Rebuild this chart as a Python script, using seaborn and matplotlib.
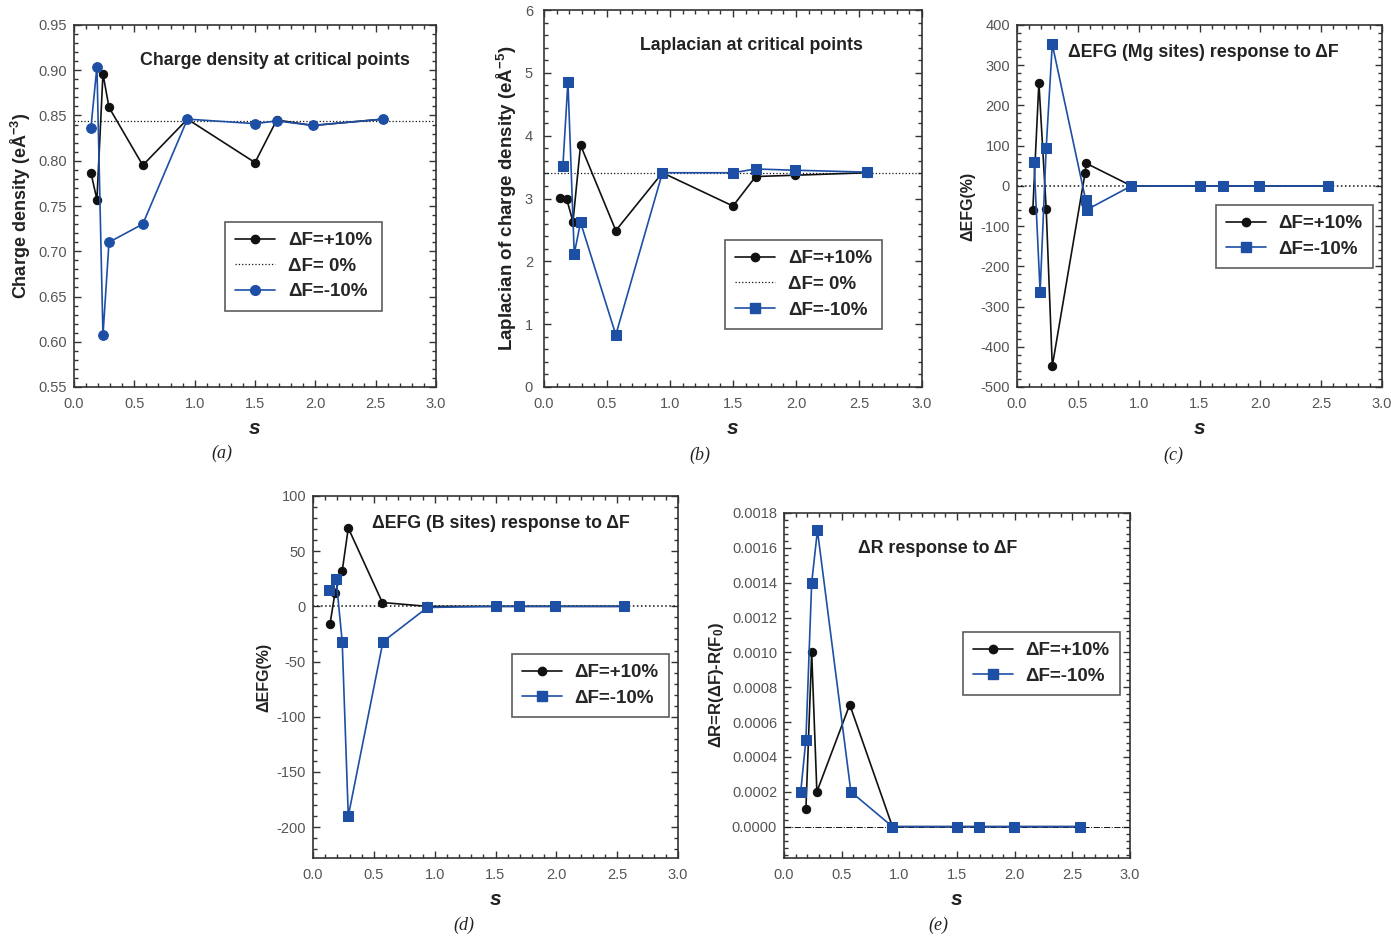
import numpy as np
import pandas as pd
import matplotlib
matplotlib.use("Agg")
import matplotlib.pyplot as plt
from matplotlib.ticker import MultipleLocator, FormatStrFormatter
from matplotlib.lines import Line2D
import seaborn as sns

# ---- data ----
# (a) charge density at critical points
s_a = [0.14, 0.19, 0.24, 0.29, 0.57, 0.94, 1.50, 1.68, 1.98, 2.56]
rho_plus = [0.787, 0.757, 0.896, 0.859, 0.795, 0.846, 0.798, 0.845, 0.839, 0.846]
rho_minus = [0.836, 0.904, 0.607, 0.710, 0.730, 0.846, 0.841, 0.844, 0.839, 0.846]
rho_ref = 0.844

# (b) laplacian at critical points
s_b_plus = [0.13, 0.18, 0.23, 0.29, 0.57, 0.94, 1.50, 1.68, 1.99, 2.56]
lap_plus = [3.01, 2.99, 2.63, 3.85, 2.49, 3.41, 2.88, 3.35, 3.37, 3.41]
s_b_minus = [0.15, 0.19, 0.24, 0.29, 0.57, 0.94, 1.50, 1.68, 1.99, 2.56]
lap_minus = [3.52, 4.86, 2.12, 2.62, 0.83, 3.41, 3.41, 3.47, 3.45, 3.42]
lap_ref = 3.41

# (c) dEFG Mg sites
s_c_plus = [0.13, 0.18, 0.24, 0.29, 0.56, 0.57, 0.94, 1.50, 1.69, 1.99, 2.56]
efg_mg_plus = [-60, 257, -58, -448, 33, 56, 0, 0, 0, 0, 0]
s_c_minus = [0.14, 0.19, 0.24, 0.29, 0.565, 0.575, 0.94, 1.50, 1.69, 1.99, 2.56]
efg_mg_minus = [60, -264, 95, 352, -36, -59, 0, 0, 0, 0, 0]

# (d) dEFG B sites
s_d_plus = [0.14, 0.18, 0.24, 0.29, 0.57, 0.94, 1.50, 1.69, 1.99, 2.56]
efg_b_plus = [-16, 12, 32, 71, 3.5, 0, 0, 0, 0, 0]
s_d_minus = [0.13, 0.19, 0.24, 0.29, 0.575, 0.94, 1.50, 1.69, 1.99, 2.56]
efg_b_minus = [15, 25, -32, -190, -32, -1, 0, 0, 0, 0]

# (e) dR response
s_e_plus = [0.19, 0.24, 0.285, 0.57, 0.94, 1.50, 1.69, 1.99, 2.56]
dr_plus = [0.0001, 0.0010, 0.0002, 0.0007, 0.0, 0.0, 0.0, 0.0, 0.0]
s_e_minus = [0.145, 0.19, 0.24, 0.29, 0.58, 0.94, 1.50, 1.69, 1.99, 2.57]
dr_minus = [0.0002, 0.0005, 0.0014, 0.0017, 0.0002, 0.0, 0.0, 0.0, 0.0, 0.0]

BLACK = "#111111"
BLUE = "#1d4fa5"

sns.set_style("ticks", {"xtick.direction": "in", "ytick.direction": "in"})
plt.rcParams["font.family"] = ["Liberation Sans", "DejaVu Sans"]
plt.rcParams["mathtext.fontset"] = "custom"
plt.rcParams["mathtext.rm"] = "Liberation Sans"
plt.rcParams["mathtext.bf"] = "Liberation Sans:bold"
plt.rcParams["mathtext.default"] = "regular"

fig = plt.figure(figsize=(13.91, 9.36), dpi=100)
W, H = 1391, 936


def add_axes(l, r, t, b):
    return fig.add_axes([l / W, 1 - b / H, (r - l) / W, (b - t) / H])


def style(ax, ylim, ymajor, yminor, yfmt, ylabel, ylab_size=13):
    ax.set_xlim(0, 3.0)
    ax.set_ylim(*ylim)
    ax.xaxis.set_major_locator(MultipleLocator(0.5))
    ax.xaxis.set_minor_locator(MultipleLocator(0.1))
    ax.xaxis.set_major_formatter(FormatStrFormatter("%.1f"))
    ax.yaxis.set_major_locator(MultipleLocator(ymajor))
    ax.yaxis.set_minor_locator(MultipleLocator(yminor))
    ax.yaxis.set_major_formatter(FormatStrFormatter(yfmt))
    ax.tick_params(which="both", direction="in", top=True, right=True,
                   colors="#333333", labelcolor="#555555", labelsize=10.5, width=1.0)
    ax.tick_params(which="major", length=5)
    ax.tick_params(which="minor", length=3)
    ax.tick_params(axis="x", pad=7)
    ax.tick_params(axis="y", pad=5)
    for sp in ax.spines.values():
        sp.set_visible(True)
        sp.set_color("#333333")
        sp.set_linewidth(1.2)
    ax.set_xlabel("s", fontsize=15, fontweight="bold", fontstyle="italic",
                  color="#222222", labelpad=6)
    ax.set_ylabel(ylabel, fontsize=ylab_size, fontweight="bold", color="#222222")


def series(ax, x, y, color, marker, ms, lw=1.2):
    sns.lineplot(x=x, y=y, ax=ax, color=color, marker=marker, markersize=ms,
                 markeredgecolor=color, linewidth=lw, sort=False, estimator=None,
                 legend=False, zorder=3 if color == BLUE else 2)


def legend(ax, handles, anchor):
    leg = ax.legend(handles=handles, loc="upper left", bbox_to_anchor=anchor,
                    borderaxespad=0, frameon=True, fancybox=False, edgecolor="#333333",
                    prop={"weight": "bold", "size": 13.5}, handlelength=2.1,
                    borderpad=0.55, labelspacing=0.45, handletextpad=0.7)
    leg.get_frame().set_linewidth(1.2)
    return leg


def title(ax, x, y, txt):
    ax.text(x, y, txt, transform=ax.transAxes, fontsize=12.8, fontweight="bold",
            va="center", color="#222222")


h_plus = Line2D([], [], color=BLACK, marker="o", markersize=6, lw=1.2, label="ΔF=+10%")
h_zero = Line2D([], [], color=BLACK, ls=":", lw=0.9, label="ΔF= 0%")
h_minus_c = Line2D([], [], color=BLUE, marker="o", markersize=7, lw=1.2, label="ΔF=-10%")
h_minus_s = Line2D([], [], color=BLUE, marker="s", markersize=7, lw=1.2, label="ΔF=-10%")

# (a)
ax = add_axes(74, 436, 25, 387)
ax.axhline(rho_ref, color=BLACK, ls=":", lw=0.9, zorder=1)
series(ax, s_a, rho_plus, BLACK, "o", 6)
series(ax, s_a, rho_minus, BLUE, "o", 7)
style(ax, (0.55, 0.95), 0.05, 0.01, "%.2f", "Charge density (eÅ$^{-3}$)")
title(ax, 0.182, 0.903, "Charge density at critical points")
legend(ax, [h_plus, h_zero, h_minus_c], (0.417, 0.456))

# (b)
ax = add_axes(544, 922, 10, 387)
ax.axhline(lap_ref, color=BLACK, ls=":", lw=0.9, zorder=1)
series(ax, s_b_plus, lap_plus, BLACK, "o", 6)
series(ax, s_b_minus, lap_minus, BLUE, "s", 7)
style(ax, (0, 6), 1, 0.2, "%d", "Laplacian of charge density (eÅ$^{-5}$)", ylab_size=13.5)
ax.tick_params(axis="y", pad=8)
title(ax, 0.254, 0.905, "Laplacian at critical points")
legend(ax, [h_plus, h_zero, h_minus_s], (0.479, 0.39))

# (c)
ax = add_axes(1017, 1382, 25, 387)
ax.axhline(0, color=BLACK, ls=":", lw=1.1, zorder=1)
series(ax, s_c_plus, efg_mg_plus, BLACK, "o", 6)
series(ax, s_c_minus, efg_mg_minus, BLUE, "s", 7)
style(ax, (-500, 400), 100, 20, "%d", "ΔEFG(%)", ylab_size=11.5)
title(ax, 0.14, 0.925, "ΔEFG (Mg sites) response to ΔF")
legend(ax, [h_plus, h_minus_s], (0.545, 0.503))

# (d)
ax = add_axes(313, 678, 496, 858)
ax.axhline(0, color=BLACK, ls=":", lw=1.1, zorder=1)
series(ax, s_d_plus, efg_b_plus, BLACK, "o", 6)
series(ax, s_d_minus, efg_b_minus, BLUE, "s", 7)
style(ax, (-228, 100), 50, 10, "%d", "ΔEFG(%)", ylab_size=11.5)
title(ax, 0.162, 0.923, "ΔEFG (B sites) response to ΔF")
legend(ax, [h_plus, h_minus_s], (0.545, 0.564))

# (e)
ax = add_axes(784, 1130, 513, 858)
ax.axhline(0, color=BLACK, ls="-.", lw=0.7, zorder=1)
series(ax, s_e_plus, dr_plus, BLACK, "o", 6)
series(ax, s_e_minus, dr_minus, BLUE, "s", 7)
style(ax, (-0.00018, 0.0018), 0.0002, 0.00004, "%.4f", "ΔR=R(ΔF)-R(F$_0$)", ylab_size=12)
ax.set_yticks(np.arange(0, 0.00181, 0.0002))
ax.set_ylim(-0.00018, 0.0018)
title(ax, 0.214, 0.896, "ΔR response to ΔF")
legend(ax, [h_plus, h_minus_s], (0.517, 0.655))

# panel letters
for x, y, lab in [(222, 453, "a"), (700, 455, "b"), (1173, 455, "c"),
                  (464, 925, "d"), (938, 925, "e")]:
    fig.text(x / W, 1 - y / H, "(" + lab + ")", fontsize=13, ha="center", va="center",
             family="Liberation Serif", fontstyle="italic", color="#222222")

fig.savefig("out.png", dpi=100)
